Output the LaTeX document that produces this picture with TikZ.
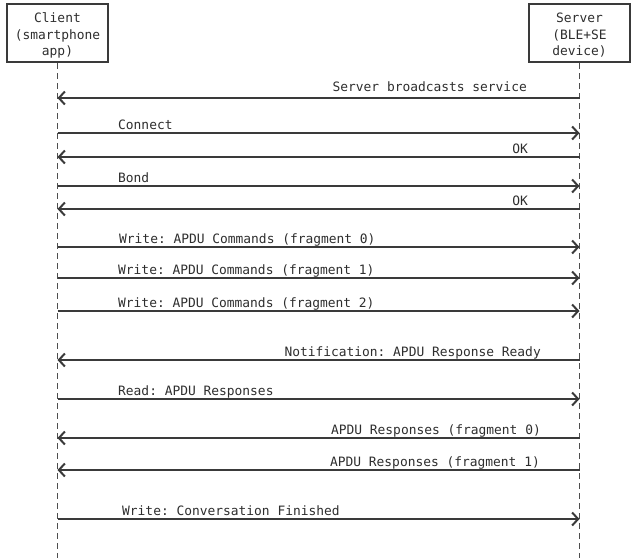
\documentclass[tikz,border=0pt]{standalone}
\usepackage{fontspec}
\setmonofont{DejaVu Sans Mono}
\usetikzlibrary{arrows.meta}
\definecolor{ink}{HTML}{3A3A3A}
\definecolor{txt}{HTML}{2E2E2E}
\tikzset{
  actor/.style={draw=ink, line width=2pt, minimum width=101pt, minimum height=58pt,
    inner sep=0pt},
  actorname/.style={align=center, inner sep=0pt, text=txt,
    font=\ttfamily\fontsize{12.9}{16.5}\selectfont},
  lifeline/.style={draw=ink!90, line width=1.3pt, dash pattern=on 6pt off 4pt},
  msg/.style={draw=ink, line width=1.5pt},
  lbl/.style={text=txt, inner sep=0pt, font=\ttfamily\fontsize{12.9}{15}\selectfont}
}
\begin{document}
\begin{tikzpicture}[x=1pt,y=-1pt,>={Straight Barb[length=6pt,width=13pt,line width=2pt]}]
  \useasboundingbox (0,0) rectangle (640,558);
  % participants
  \node[actor] (client) at (57.5,33) {};
  \node[actor] (server) at (579.5,33) {};
  \node[actorname] (clientname) at ([yshift=-2.5pt]client.center) {Client\\(smartphone\\app)};
  \node[actorname] (servername) at ([yshift=-2.5pt]server.center) {Server\\(BLE+SE\\device)};
  \coordinate (cend) at (client |- 0,558);
  \coordinate (send) at (server |- 0,558);
  \draw[lifeline] (client.south) -- (cend);
  \draw[lifeline] (server.south) -- (send);
  % client -> server
  \foreach \y/\lx/\txt in {133/118/Connect, 186/118/Bond,
      247/119/Write: APDU Commands (fragment 0),
      278/118/Write: APDU Commands (fragment 1),
      311/118/Write: APDU Commands (fragment 2),
      399/118/Read: APDU Responses,
      519/122/Write: Conversation Finished}{
    \coordinate (c\y) at (client |- 0,\y);
    \coordinate (s\y) at (server |- 0,\y);
    \draw[msg,->] (c\y) -- (s\y);
    \node[lbl, anchor=base west] (l\y) at (\lx,\y-4) {\txt};
  }
  % server -> client
  \foreach \y/\lx/\ly/\txt in {98/527/91/Server broadcasts service, 157/528/153/OK,
      209/528/205/OK,
      360/541/356/Notification: APDU Response Ready,
      438/541/434/APDU Responses (fragment 0),
      470/540/466/APDU Responses (fragment 1)}{
    \coordinate (s\y) at (server |- 0,\y);
    \coordinate (c\y) at (client |- 0,\y);
    \draw[msg,->] (s\y) -- (c\y);
    \node[lbl, anchor=base east] (l\y) at (\lx,\ly) {\txt};
  }
\end{tikzpicture}
\end{document}
